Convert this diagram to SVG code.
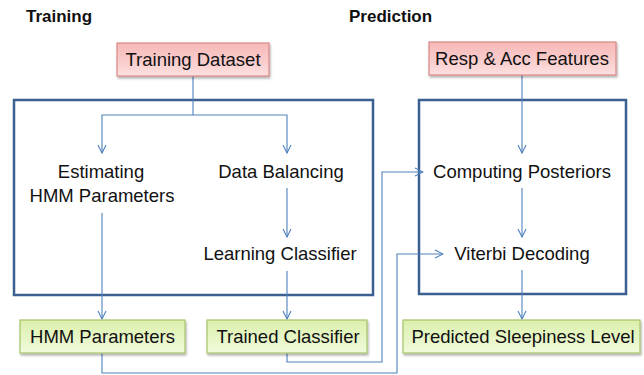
<svg xmlns="http://www.w3.org/2000/svg" width="644" height="375" viewBox="0 0 644 375">
<style>
text{font-family:"Liberation Sans",Arial,sans-serif;fill:#111;}
.t{font-size:18.5px;text-anchor:middle;}
.h{font-size:17px;font-weight:bold;}
.frame{fill:none;stroke:#3b5f8e;stroke-width:2.5;}
.red{fill:url(#gr);stroke:#d78886;stroke-width:1.2;filter:url(#sh);}
.grn{fill:url(#gg);stroke:#a6c46a;stroke-width:1.2;filter:url(#sh);}
.c{fill:none;stroke:#4f81bd;stroke-width:1.1;}
.a{marker-end:url(#arr);}
</style>
<defs>
<linearGradient id="gr" x1="0" y1="0" x2="0" y2="1">
<stop offset="0" stop-color="#f6b9b8"/>
<stop offset="0.5" stop-color="#f9caca"/>
<stop offset="1" stop-color="#fde0e0"/>
</linearGradient>
<linearGradient id="gg" x1="0" y1="0" x2="0" y2="1">
<stop offset="0" stop-color="#dcf0ad"/>
<stop offset="0.5" stop-color="#e6f5c4"/>
<stop offset="1" stop-color="#f0fadc"/>
</linearGradient>
<filter id="sh" x="-10%" y="-20%" width="120%" height="160%">
<feDropShadow dx="1" dy="2" stdDeviation="1.2" flood-color="#000" flood-opacity="0.3"/>
</filter>
<marker id="arr" viewBox="0 0 10 10" refX="9" refY="5" markerWidth="10" markerHeight="10" markerUnits="userSpaceOnUse" orient="auto">
<path d="M1,1 L9,5 L1,9" fill="none" stroke="#4f81bd" stroke-width="1.1"/>
</marker>
</defs>

<text class="h" x="26" y="22">Training</text>
<text class="h" x="349" y="22">Prediction</text>

<g id="training-frame"><rect class="frame" x="14" y="100" width="359" height="195"/></g>
<g id="prediction-frame"><rect class="frame" x="419" y="100" width="207" height="194"/></g>

<g id="connectors">
<path class="c" d="M193,76 V115"/>
<path class="c a" d="M193,115 H102 V153"/>
<path class="c a" d="M193,115 H287 V153"/>
<path class="c a" d="M522,75 V153"/>
<path class="c a" d="M287,188 V237"/>
<path class="c a" d="M522,188 V237"/>
<path class="c a" d="M287,271 V319"/>
<path class="c a" d="M102,213 V319"/>
<path class="c a" d="M522,270 V319"/>
<path class="c a" d="M287,353 V362 H382 V172 H423"/>
<path class="c a" d="M102,353 V373 H397 V254 H443"/>
</g>

<g id="training-dataset"><rect class="red" x="117" y="43" width="152" height="33"/><text class="t" x="193" y="66">Training Dataset</text></g>
<g id="resp-acc-features"><rect class="red" x="429" y="42" width="187" height="33"/><text class="t" x="522" y="65">Resp &amp; Acc Features</text></g>

<g id="estimating-hmm"><text class="t" x="101" y="178">Estimating</text><text class="t" x="102" y="202">HMM Parameters</text></g>
<g id="data-balancing"><text class="t" x="281" y="178">Data Balancing</text></g>
<g id="learning-classifier"><text class="t" x="280" y="260">Learning Classifier</text></g>
<g id="computing-posteriors"><text class="t" x="522" y="178">Computing Posteriors</text></g>
<g id="viterbi-decoding"><text class="t" x="522" y="260">Viterbi Decoding</text></g>

<g id="hmm-parameters"><rect class="grn" x="20" y="320" width="165" height="33"/><text class="t" x="102.5" y="343">HMM Parameters</text></g>
<g id="trained-classifier"><rect class="grn" x="207" y="320" width="160" height="33"/><text class="t" x="288" y="343">Trained Classifier</text></g>
<g id="predicted-sleepiness"><rect class="grn" x="403" y="320" width="237" height="33"/><text class="t" x="523" y="343">Predicted Sleepiness Level</text></g>
</svg>
